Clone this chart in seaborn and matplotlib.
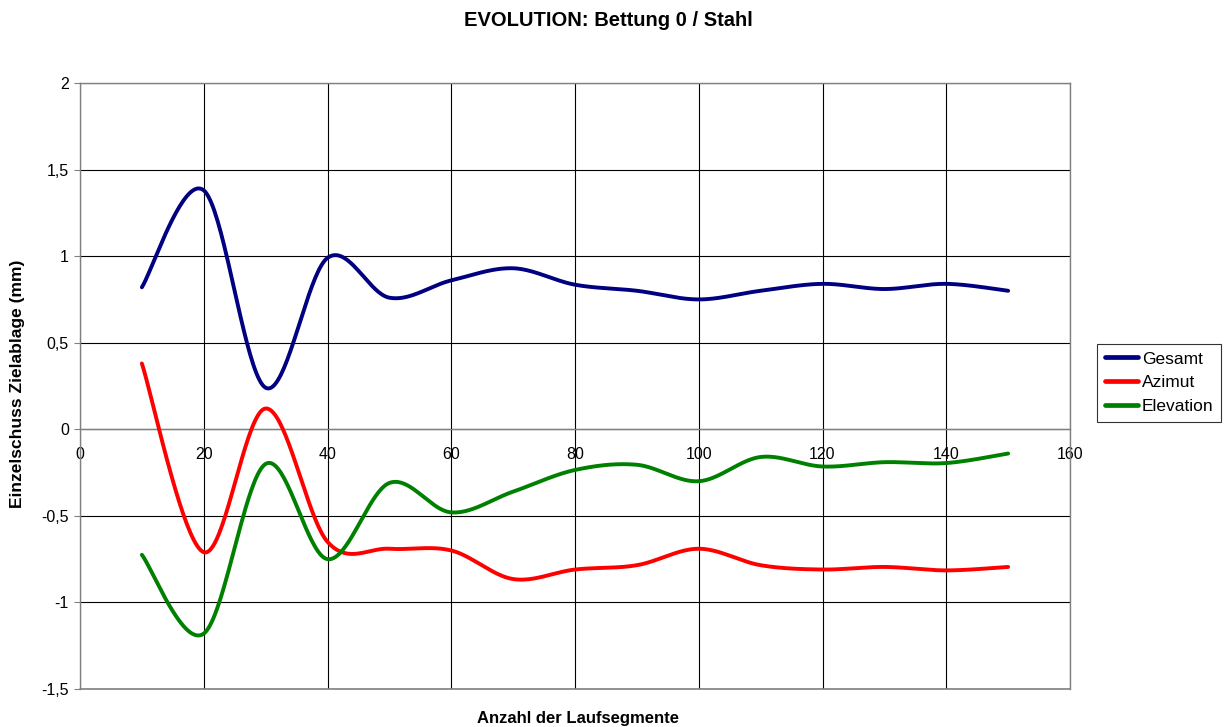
import numpy as np
import pandas as pd
import matplotlib
matplotlib.use("Agg")
import matplotlib.pyplot as plt
import seaborn as sns
from matplotlib.ticker import FuncFormatter, MultipleLocator

# Measurements per barrel segment count
segments = [10, 20, 30, 40, 50, 60, 70, 80, 90, 100, 110, 120, 130, 140, 150]
gesamt = [0.82, 1.38, 0.24, 0.99, 0.76, 0.86, 0.93, 0.835, 0.80, 0.75, 0.80, 0.84, 0.81, 0.84, 0.80]
azimut = [0.38, -0.71, 0.12, -0.65, -0.69, -0.70, -0.865, -0.81, -0.785, -0.69, -0.785, -0.81, -0.795, -0.815, -0.795]
elevation = [-0.725, -1.18, -0.20, -0.75, -0.31, -0.48, -0.36, -0.235, -0.205, -0.30, -0.16, -0.215, -0.19, -0.195, -0.14]

series_names = ["Gesamt", "Azimut", "Elevation"]
series_values = [gesamt, azimut, elevation]
series_colors = {"Gesamt": "#000080", "Azimut": "#FF0000", "Elevation": "#008000"}

title_text = "EVOLUTION: Bettung 0 / Stahl"
x_label = "Anzahl der Laufsegmente"
y_label = "Einzelschuss Zielablage (mm)"


def smooth_curve(xs, ys, steps=40):
    """Piecewise cubic Bezier through all points (spreadsheet-style smoothed line)."""
    P = np.column_stack([xs, ys]).astype(float)
    n = len(P)
    out = []
    for i in range(n - 1):
        p0 = P[max(i - 1, 0)]
        p1 = P[i]
        p2 = P[i + 1]
        p3 = P[min(i + 2, n - 1)]
        c1 = p1 + (p2 - p0) / 6.0
        c2 = p2 - (p3 - p1) / 6.0
        t = np.linspace(0, 1, steps, endpoint=(i == n - 2))[:, None]
        seg = ((1 - t) ** 3) * p1 + 3 * ((1 - t) ** 2) * t * c1 + 3 * (1 - t) * t ** 2 * c2 + t ** 3 * p2
        out.append(seg)
    out = np.vstack(out)
    return out[:, 0], out[:, 1]


frames = []
for name, vals in zip(series_names, series_values):
    sx, sy = smooth_curve(segments, vals)
    frames.append(pd.DataFrame({"x": sx, "y": sy, "Serie": name, "order": np.arange(len(sx))}))
df = pd.concat(frames, ignore_index=True)

sns.set_theme(style="white")
plt.rcParams["font.family"] = ["Liberation Sans", "DejaVu Sans"]
plt.rcParams["text.color"] = "black"
plt.rcParams["axes.labelcolor"] = "black"
plt.rcParams["xtick.color"] = "black"
plt.rcParams["ytick.color"] = "black"

fig = plt.figure(figsize=(12.3, 7.27), dpi=100)
ax = fig.add_axes([80 / 1230, 1 - 689 / 727, 990 / 1230, 606 / 727])

sns.lineplot(data=df, x="x", y="y", hue="Serie", palette=series_colors,
             hue_order=series_names, sort=False, estimator=None,
             linewidth=2.8, ax=ax, zorder=3)

ax.set_xlim(0, 160)
ax.set_ylim(-1.5, 2)
ax.xaxis.set_major_locator(MultipleLocator(20))
ax.yaxis.set_major_locator(MultipleLocator(0.5))
ax.yaxis.set_major_formatter(FuncFormatter(lambda v, p: ("%g" % v).replace(".", ",")))

ax.grid(True, color="black", linewidth=0.8, zorder=0)
ax.set_axisbelow(True)

for side in ["left", "right", "top", "bottom"]:
    ax.spines[side].set_visible(True)
    ax.spines[side].set_color("#808080")
    ax.spines[side].set_linewidth(1.0)
ax.spines["bottom"].set_position(("data", 0))
# lower frame edge of the plot area
ax.axhline(-1.5, color="#808080", linewidth=1.2, clip_on=False, zorder=1)

ax.tick_params(axis="x", length=0, pad=13, labelsize=11.5, labelcolor="black")
ax.tick_params(axis="y", length=4, width=0.8, pad=4, labelsize=11.5, labelcolor="black",
               left=True, direction="out", color="#808080")

ax.set_xlabel("")
ax.set_ylabel("")
fig.text(578 / 1230, 1 - 719 / 727, x_label, ha="center", va="center",
         fontsize=12, fontweight="bold", color="black")
fig.text(18 / 1230, 1 - 384 / 727, y_label, ha="center", va="center",
         rotation=90, fontsize=12.5, fontweight="bold", color="black")
fig.text(608 / 1230, 1 - 21 / 727, title_text, ha="center", va="center",
         fontsize=14.5, fontweight="bold", color="black")

handles, labels = ax.get_legend_handles_labels()
leg = ax.legend(handles, labels, loc="upper left", bbox_to_anchor=(1.027, 0.57),
                borderaxespad=0, frameon=True, fancybox=False, fontsize=12.5,
                handlelength=1.9, handletextpad=0.25, labelspacing=0.5,
                borderpad=0.45)
leg.get_frame().set_edgecolor("black")
leg.get_frame().set_linewidth(0.8)
for text in leg.get_texts():
    text.set_color("black")
for line in leg.get_lines():
    line.set_linewidth(3.4)

fig.savefig("out.png", dpi=100)
